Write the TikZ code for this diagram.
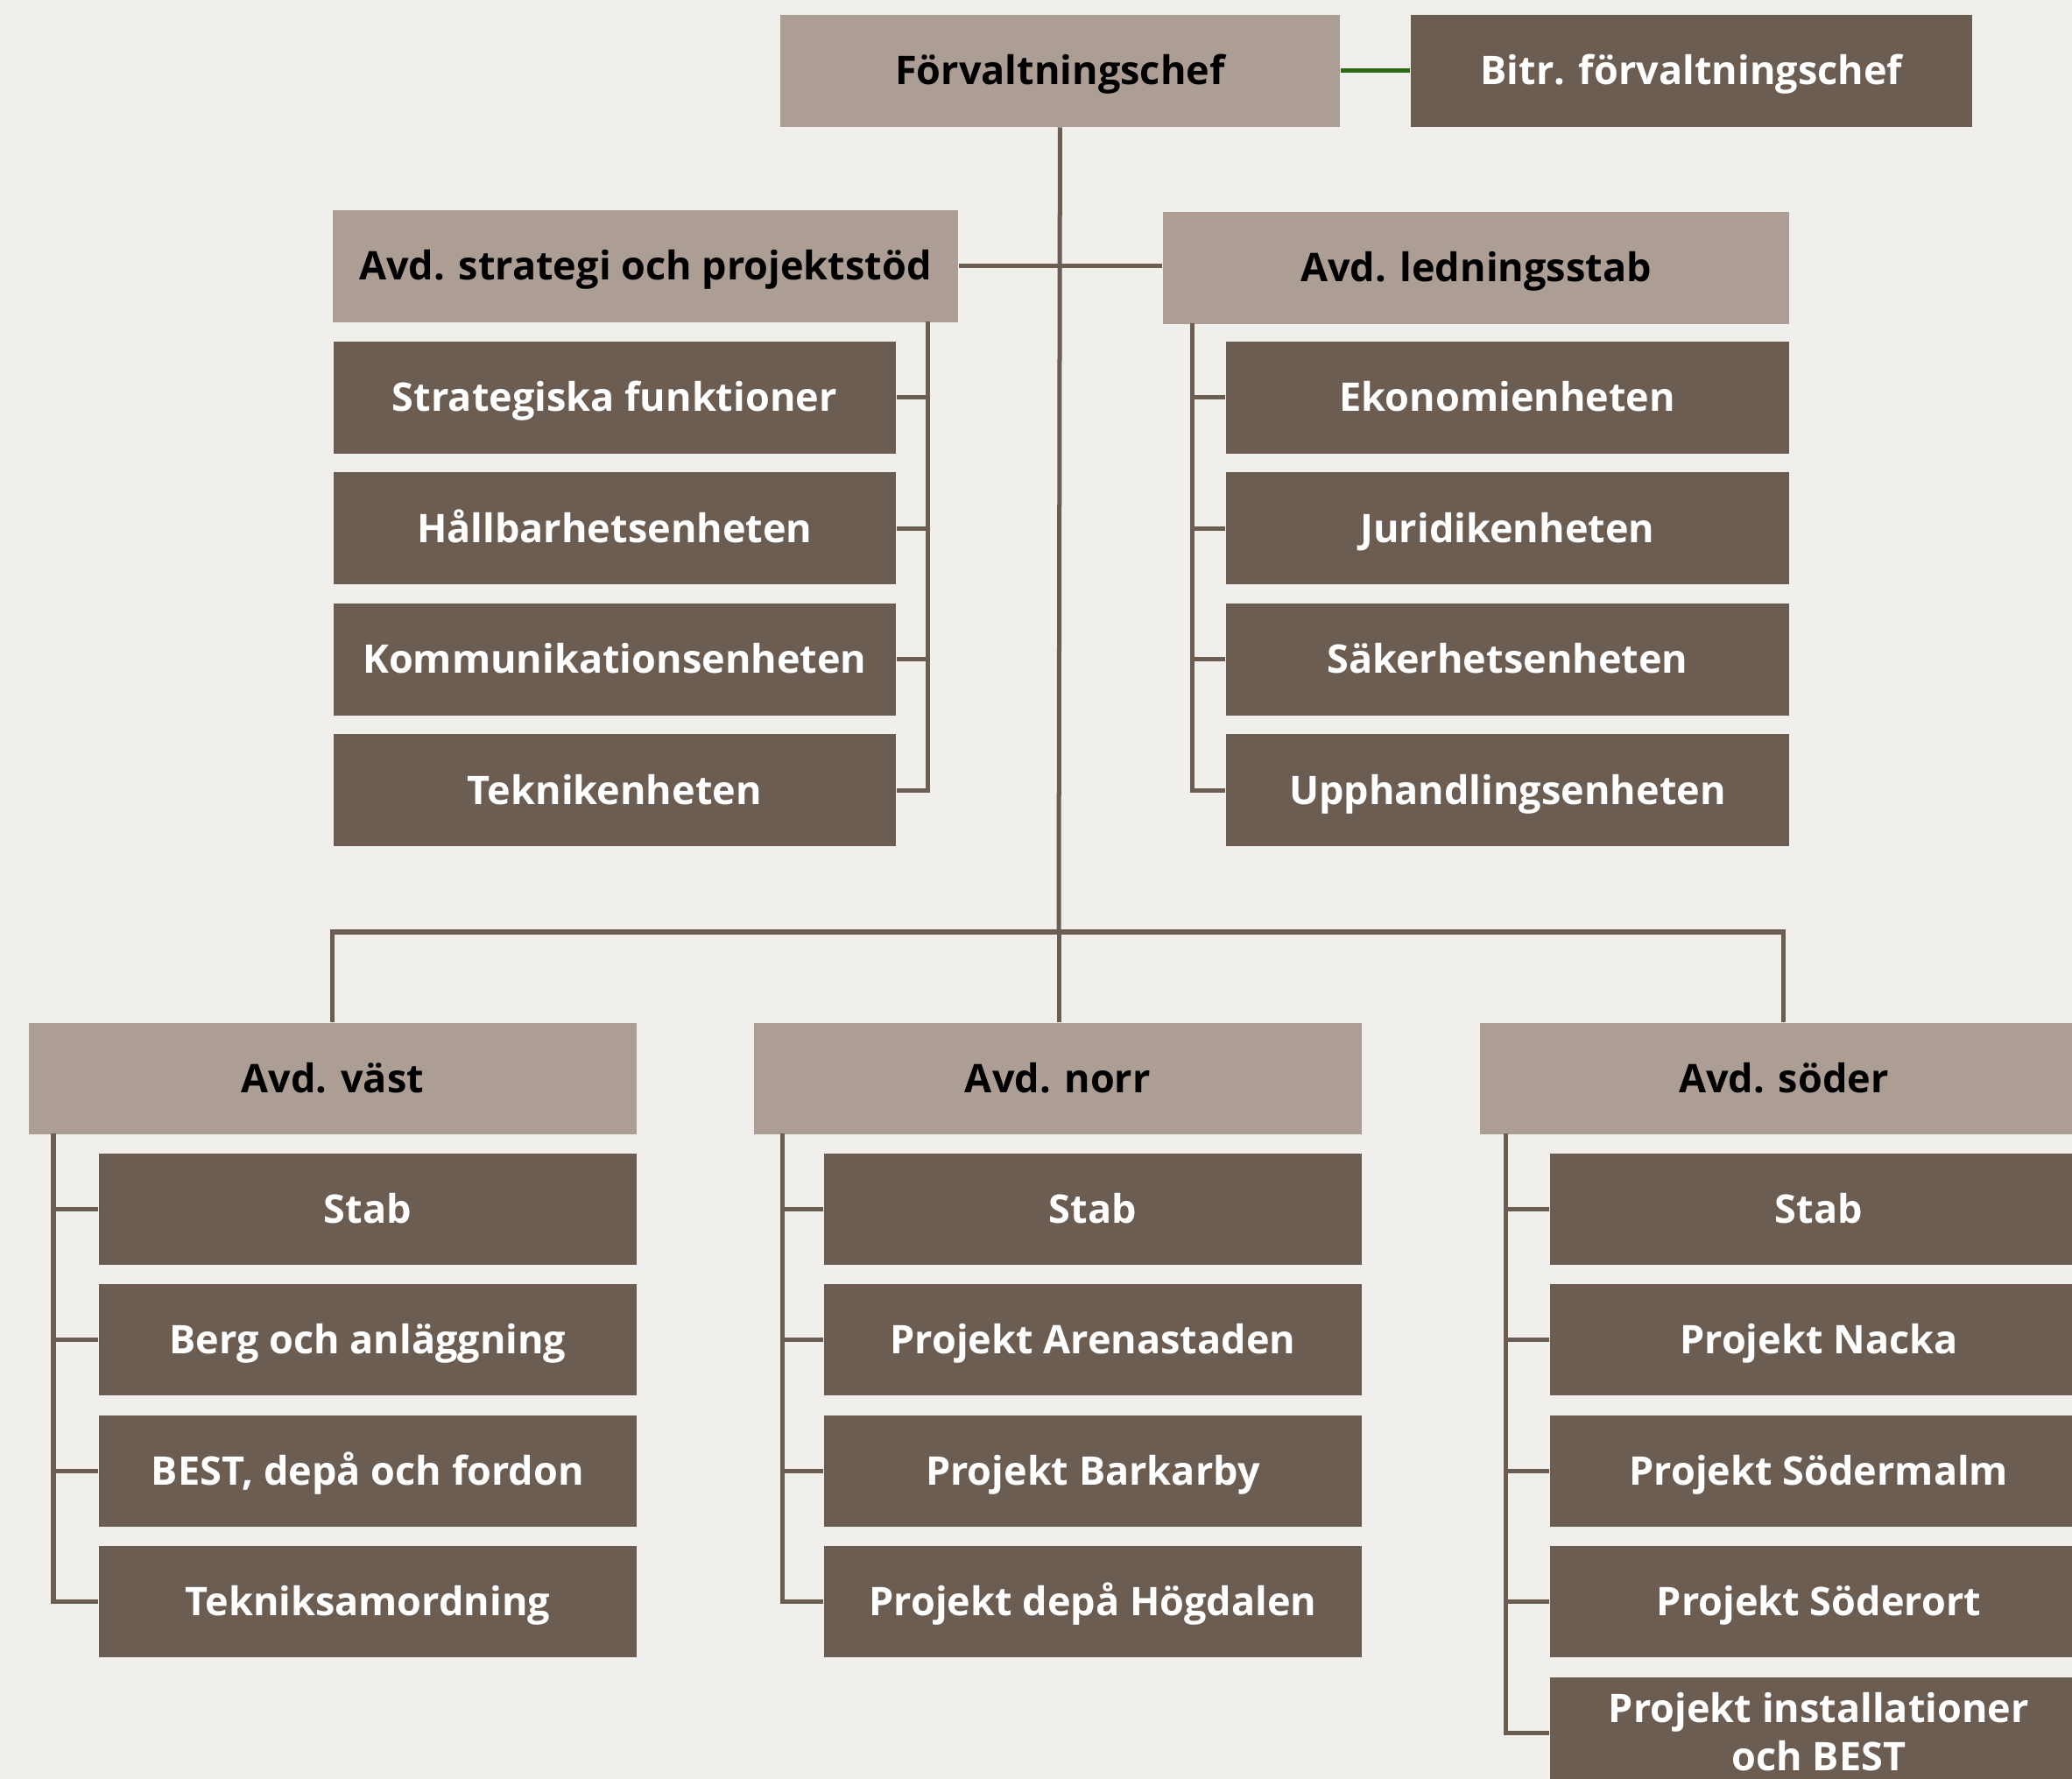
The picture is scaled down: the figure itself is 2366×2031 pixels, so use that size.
\documentclass[tikz,border=0pt]{standalone}
\usepackage{fontspec}
\setmainfont{Open Sans}
\definecolor{bg}{HTML}{F0EFEB}
\definecolor{light}{HTML}{AC9D95}
\definecolor{dark}{HTML}{6C5D53}
\definecolor{grn}{HTML}{2E6B14}
\begin{document}
\begin{tikzpicture}[x=0.01cm,y=-0.01cm,
  box/.style={rectangle, inner sep=0pt, anchor=north west, font=\bfseries\fontsize{12.8}{15}\selectfont, text height=0.32cm, text depth=0pt},
  headbox/.style={box, fill=light, text=black, minimum height=1.28cm},
  unitbox/.style={box, fill=dark, text=white, minimum height=1.28cm},
  subbox/.style={box, fill=dark, text=white, minimum height=1.27cm, minimum width=6.14cm},
  divbox/.style={box, fill=light, text=black, minimum height=1.27cm, minimum width=6.94cm},
  conn/.style={draw=dark, line width=0.05cm},
  gconn/.style={draw=grn, line width=0.05cm}
]
\clip (0,0) rectangle (2366,2031);
\fill[bg] (0,0) rectangle (2366,2031);

% top
\node[headbox, minimum width=6.39cm] (fc) at (890,16) {Förvaltningschef};
\node[unitbox, minimum width=6.41cm] (bfc) at (1610,16) {Bitr. förvaltningschef};

\node[headbox, minimum width=7.14cm] (strat) at (379,239) {Avd. strategi och projektstöd};
\node[headbox, minimum width=7.15cm] (led) at (1327,241) {Avd. ledningsstab};

\node[unitbox, minimum width=6.42cm] (s1) at (380,389) {Strategiska funktioner};
\node[unitbox, minimum width=6.42cm] (s2) at (380,538.5) {Hållbarhetsenheten};
\node[unitbox, minimum width=6.42cm] (s3) at (380,688) {Kommunikationsenheten};
\node[unitbox, minimum width=6.42cm] (s4) at (380,837.5) {Teknikenheten};

\node[unitbox, minimum width=6.43cm] (l1) at (1399,389) {Ekonomienheten};
\node[unitbox, minimum width=6.43cm] (l2) at (1399,538.5) {Juridikenheten};
\node[unitbox, minimum width=6.43cm] (l3) at (1399,688) {Säkerhetsenheten};
\node[unitbox, minimum width=6.43cm] (l4) at (1399,837.5) {Upphandlingsenheten};

% divisions
\node[divbox] (vast) at (32,1167) {Avd. väst};
\node[divbox] (norr) at (860,1167) {Avd. norr};
\node[divbox] (soder) at (1689,1167) {Avd. söder};

\node[subbox] (v1) at (112,1316) {Stab};
\node[subbox] (v2) at (112,1465.5) {Berg och anläggning};
\node[subbox] (v3) at (112,1615) {BEST, depå och fordon};
\node[subbox] (v4) at (112,1764.5) {Tekniksamordning};

\node[subbox] (n1) at (940,1316) {Stab};
\node[subbox] (n2) at (940,1465.5) {Projekt Arenastaden};
\node[subbox] (n3) at (940,1615) {Projekt Barkarby};
\node[subbox] (n4) at (940,1764.5) {Projekt depå Högdalen};

\node[subbox] (so1) at (1769,1316) {Stab};
\node[subbox] (so2) at (1769,1465.5) {Projekt Nacka};
\node[subbox] (so3) at (1769,1615) {Projekt Södermalm};
\node[subbox] (so4) at (1769,1764.5) {Projekt Söderort};
\node[subbox, align=center, font=\bfseries\fontsize{12.8}{15.6}\selectfont, text height=0.87cm] (so5) at (1769,1914) {Projekt installationer\\och BEST};

% connectors
\draw[gconn] (fc.east) -- (bfc.west);
\coordinate (hb) at (1209,1064);
\draw[conn] (fc.south) -- (hb);
\draw[conn] (strat.east) -- (strat.east -| led.west);
\draw[conn] (vast.north) |- (hb) -| (soder.north);
\draw[conn] (hb) -- (hb |- norr.north);

\coordinate (sb) at (1059,367);
\draw[conn] (sb) |- (s4.east);
\foreach \n in {s1,s2,s3} \draw[conn] (\n.east) -- (\n.east -| sb);

\coordinate (lb) at (1361,369);
\draw[conn] (lb) |- (l4.west);
\foreach \n in {l1,l2,l3} \draw[conn] (\n.west) -- (\n.west -| lb);

\coordinate (vb) at (61,1294);
\draw[conn] (vb) |- (v4.west);
\foreach \n in {v1,v2,v3} \draw[conn] (\n.west) -- (\n.west -| vb);

\coordinate (nb) at (893,1294);
\draw[conn] (nb) |- (n4.west);
\foreach \n in {n1,n2,n3} \draw[conn] (\n.west) -- (\n.west -| nb);

\coordinate (sob) at (1719,1294);
\draw[conn] (sob) |- (so5.west);
\foreach \n in {so1,so2,so3,so4} \draw[conn] (\n.west) -- (\n.west -| sob);
\end{tikzpicture}
\end{document}
